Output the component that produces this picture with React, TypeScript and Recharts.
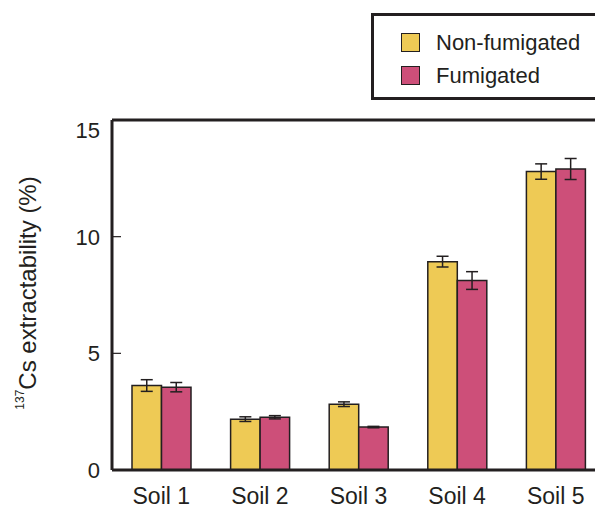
import { BarChart, Bar, XAxis, YAxis, ErrorBar, ReferenceLine, Legend, Label } from 'recharts'

const soils = ['Soil 1', 'Soil 2', 'Soil 3', 'Soil 4', 'Soil 5']
const nonFumigated = [3.62, 2.18, 2.82, 8.93, 12.79]
const nonFumigatedErr = [0.25, 0.1, 0.1, 0.23, 0.33]
const fumigated = [3.55, 2.26, 1.84, 8.12, 12.9]
const fumigatedErr = [0.2, 0.07, 0.03, 0.38, 0.45]
const yTicks = [0, 5, 10, 15]

const INK = '#231f20'
const YELLOW = '#eeca55'
const PINK = '#cd4f79'
const FONT = '"Liberation Sans", Arial, Helvetica, sans-serif'

const data = soils.map((soil, i) => ({
  soil,
  nonFumigated: nonFumigated[i],
  nonFumigatedErr: nonFumigatedErr[i],
  fumigated: fumigated[i],
  fumigatedErr: fumigatedErr[i],
}))

// y tick: label to the left, short tick pointing into the plot
function YTick({ x, y, payload }: any) {
  const v = payload.value
  const ly = v === 15 ? y + 10 : y
  return (
    <g>
      {v !== 0 && v !== 15 && (
        <line x1={x + 12} x2={x + 21} y1={y} y2={y} stroke={INK} strokeWidth={1.2} />
      )}
      <text x={x} y={ly} dy="0.36em" textAnchor="end" fontSize={22} fill={INK} fontFamily={FONT}>
        {v}
      </text>
    </g>
  )
}

function LegendBox() {
  const rows = [
    { name: 'Non-fumigated', color: YELLOW },
    { name: 'Fumigated', color: PINK },
  ]
  return (
    <div
      style={{
        boxSizing: 'border-box',
        width: 260,
        height: 87,
        border: `3px solid ${INK}`,
        paddingTop: 17,
        paddingLeft: 27,
        fontFamily: FONT,
        color: INK,
      }}
    >
      {rows.map((r) => (
        <div key={r.name} style={{ display: 'flex', alignItems: 'center', height: 19, marginBottom: 14 }}>
          <span
            style={{
              boxSizing: 'border-box',
              width: 19,
              height: 19,
              background: r.color,
              border: `1px solid ${INK}`,
              marginRight: 16,
            }}
          />
          <span style={{ fontSize: 22, lineHeight: '19px' }}>{r.name}</span>
        </div>
      ))}
    </div>
  )
}

export default function App() {
  return (
    <div style={{ position: 'absolute', left: 0, top: 0, width: 595, height: 509, overflow: 'hidden', background: '#fff' }}>
      <BarChart
        width={640}
        height={509}
        data={data}
        margin={{ top: 120, right: 35, bottom: 0, left: 0 }}
        barGap={0}
        barSize={29.5}
      >
        <XAxis
          dataKey="soil"
          height={39}
          tickSize={0}
          tickMargin={18}
          axisLine={{ stroke: INK, strokeWidth: 3 }}
          tick={{ fontSize: 23, fill: INK, fontFamily: FONT }}
        />
        <YAxis
          domain={[0, 15]}
          ticks={yTicks}
          width={112}
          tickSize={0}
          tickMargin={12}
          axisLine={{ stroke: INK, strokeWidth: 3 }}
          tick={<YTick />}
        >
          <Label
            content={() => (
              <text
                x={36}
                y={293}
                transform="rotate(-90, 36, 293)"
                textAnchor="middle"
                fontSize={24}
                fill={INK}
                fontFamily={FONT}
              >
                <tspan fontSize={12} dy={-12}>137</tspan>
                <tspan dy={12}>Cs extractability (%)</tspan>
              </text>
            )}
          />
        </YAxis>
        <ReferenceLine y={15} stroke={INK} strokeWidth={3} />
        <Legend
          layout="vertical"
          align="center"
          verticalAlign="middle"
          wrapperStyle={{ top: 13, left: 371, width: 260, height: 87 }}
          content={() => <LegendBox />}
        />
        <Bar dataKey="nonFumigated" name="Non-fumigated" fill={YELLOW} stroke={INK} strokeWidth={1.5} isAnimationActive={false}>
          <ErrorBar dataKey="nonFumigatedErr" width={6} stroke={INK} strokeWidth={1.5} isAnimationActive={false} />
        </Bar>
        <Bar dataKey="fumigated" name="Fumigated" fill={PINK} stroke={INK} strokeWidth={1.5} isAnimationActive={false}>
          <ErrorBar dataKey="fumigatedErr" width={6} stroke={INK} strokeWidth={1.5} isAnimationActive={false} />
        </Bar>
      </BarChart>
    </div>
  )
}
